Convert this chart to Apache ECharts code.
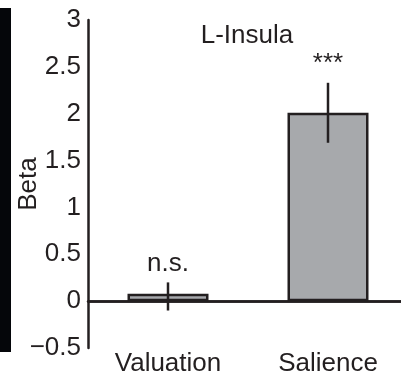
<!DOCTYPE html>
<html>
<head>
<meta charset="utf-8">
<script src="https://cdn.jsdelivr.net/npm/echarts@6/dist/echarts.min.js"></script>
<style>
html, body { margin: 0; padding: 0; background: #fff; }
#chart { width: 401px; height: 379px; }
</style>
</head>
<body>
<div id="chart"></div>
<script>
// data
var categories = ['Valuation', 'Salience'];
var betaValues = [0.08, 2.01];
var errLow = [-0.10, 1.69];
var errHigh = [0.20, 2.33];
var sigLabels = ['n.s.', '***'];

var ink = '#231f20';
var font = 'Liberation Sans, Arial, sans-serif';

var errData = [];
for (var i = 0; i < categories.length; i++) {
    errData.push([i, errLow[i], errHigh[i]]);
}

var chart = echarts.init(document.getElementById('chart'));
var option = {
    animation: false,
    title: {
        text: 'L-Insula',
        left: 242,
        top: 18,
        textAlign: 'center',
        textStyle: { color: ink, fontFamily: font, fontSize: 26, fontWeight: 'normal' }
    },
    graphic: [
        // black strip on the left edge of the panel
        { type: 'rect', shape: { x: 0, y: 8, width: 11, height: 344 }, style: { fill: '#05060a' } }
    ],
    grid: { left: 88, top: 20, bottom: 31, width: 320, outerBoundsMode: 'none' },
    xAxis: {
        type: 'category',
        data: categories,
        axisLine: { lineStyle: { color: ink, width: 2.5 } },
        axisTick: { show: false },
        axisLabel: { color: ink, fontFamily: font, fontSize: 26, margin: 3 }
    },
    yAxis: {
        type: 'value',
        min: -0.5,
        max: 3,
        interval: 0.5,
        name: 'Beta',
        nameLocation: 'middle',
        nameGap: 46,
        nameMoveOverlap: false,
        nameTextStyle: { color: ink, fontFamily: font, fontSize: 26 },
        axisLine: { show: true, lineStyle: { color: ink, width: 2.5 } },
        axisTick: { show: false },
        splitLine: { show: false },
        axisLabel: {
            color: ink, fontFamily: font, fontSize: 26, margin: 7,
            formatter: function (v) { return String(v).replace('-', '\u2212'); }
        }
    },
    series: [
        {
            type: 'bar',
            data: betaValues,
            barWidth: 81,
            itemStyle: { color: '#a7a9ac', borderColor: ink, borderWidth: 2.5 },
            markLine: {
                silent: true,
                symbol: 'none',
                label: { show: false },
                lineStyle: { color: ink, width: 2.5, type: 'solid' },
                data: [{ yAxis: 0 }]
            }
        },
        {
            type: 'custom',
            data: errData,
            z: 5,
            renderItem: function (params, api) {
                var x = api.value(0);
                var lo = api.coord([x, api.value(1)]);
                var hi = api.coord([x, api.value(2)]);
                return {
                    type: 'group',
                    children: [
                        {
                            type: 'line',
                            shape: { x1: lo[0], y1: lo[1], x2: hi[0], y2: hi[1] },
                            style: { stroke: ink, lineWidth: 2.5 }
                        },
                        {
                            type: 'text',
                            x: hi[0],
                            y: hi[1] - 6,
                            style: {
                                text: sigLabels[params.dataIndex],
                                fill: ink,
                                font: '26px ' + font,
                                align: 'center',
                                verticalAlign: 'bottom'
                            }
                        }
                    ]
                };
            }
        }
    ]
};
chart.setOption(option);
</script>
</body>
</html>
